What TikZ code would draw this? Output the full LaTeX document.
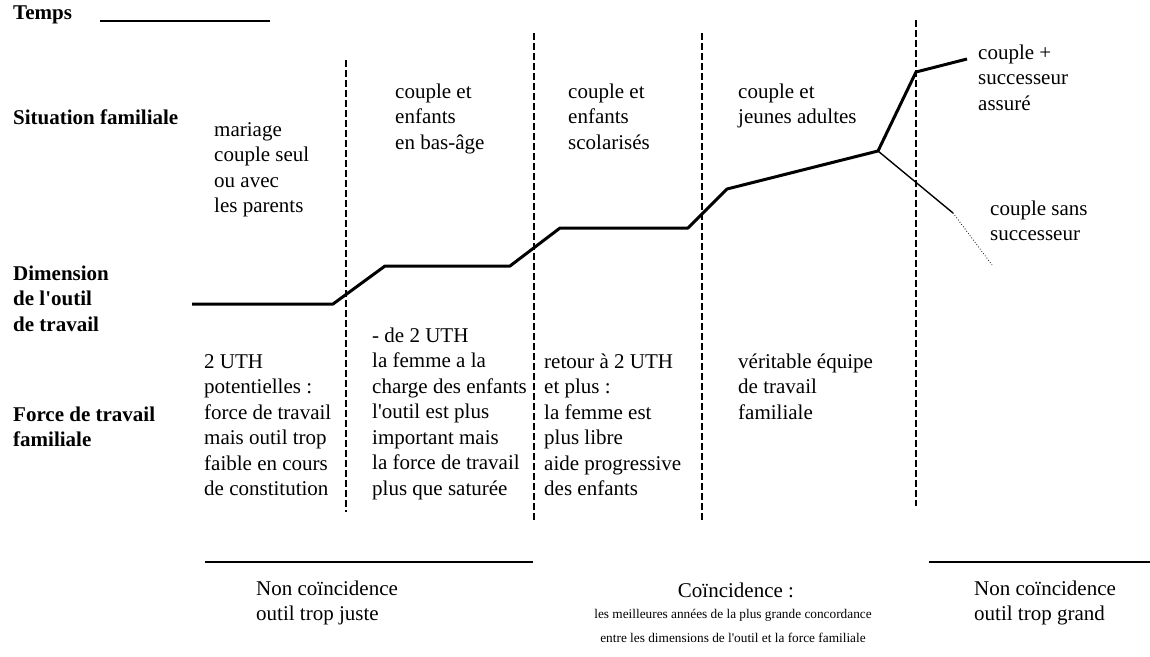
\documentclass[tikz,border=0pt]{standalone}
\usepackage{fontspec}
\setmainfont{Liberation Serif}[Ligatures=TeXOff]
\begin{document}
\begin{tikzpicture}[x=1pt,y=-1pt,
  txt/.style={font=\fontsize{21}{25.5}\selectfont, anchor=base west, inner sep=0pt, align=left},
  lbl/.style={font=\bfseries\fontsize{21}{25.5}\selectfont, anchor=base west, inner sep=0pt, align=left},
  smalltxt/.style={font=\fontsize{13.3}{24}\selectfont, anchor=base, inner sep=0pt, align=center},
  sepline/.style={dash pattern=on 7pt off 3pt, line width=1.1pt},
  career/.style={line width=3pt, line join=round},
  thinbranch/.style={line width=1.4pt},
  rule/.style={line width=1.4pt}]
\useasboundingbox (0,0) rectangle (1150,656);

% left labels (multi-line nodes are placed by the baseline of their last line)
\node[lbl] (temps) at (13,19) {Temps};
\coordinate (tl0) at (100,21);
\coordinate (tl1) at (270,21);
\draw[rule] (tl0) -- (tl1);
\node[lbl] (sit) at (13,124) {Situation familiale};
\node[lbl] (dim) at (13,331) {Dimension\\de l'outil\\de travail};
\node[lbl] (force) at (13,446.5) {Force de travail\\familiale};

% separators
\coordinate (s1t) at (346,60);  \coordinate (s1b) at (346,512);
\coordinate (s2t) at (534,33);  \coordinate (s2b) at (534,520);
\coordinate (s3t) at (702,33);  \coordinate (s3b) at (702,520);
\coordinate (s4t) at (916,20);  \coordinate (s4b) at (916,506);
\draw[sepline] (s1t) -- (s1b);
\draw[sepline] (s2t) -- (s2b);
\draw[sepline] (s3t) -- (s3b);
\draw[sepline] (s4t) -- (s4b);

% family situation
\node[txt] (f1) at (214,212.5) {mariage\\couple seul\\ou avec\\les parents};
\node[txt] (f2) at (395,149) {couple et\\enfants\\en bas-âge};
\node[txt] (f3) at (568,149) {couple et\\enfants\\scolarisés};
\node[txt] (f4) at (738,123.5) {couple et\\jeunes adultes};
\node[txt] (f5) at (978,110) {couple +\\successeur\\assuré};
\node[txt] (f6) at (990,240.5) {couple sans\\successeur};

% curve
\coordinate (p0) at (192,304);
\coordinate (p1) at (333,304);
\coordinate (p2) at (385,266);
\coordinate (p3) at (510,266);
\coordinate (p4) at (560,228);
\coordinate (p5) at (688,228);
\coordinate (p6) at (727,189);
\coordinate (p7) at (878,151);
\coordinate (p8) at (916,72);
\coordinate (p9) at (967,59);
\coordinate (q1) at (953,213);
\coordinate (q2) at (992,265);
\draw[career] (p0) -- (p1) -- (p2) -- (p3) -- (p4) -- (p5) -- (p6) -- (p7) -- (p8) -- (p9);
\draw[thinbranch] (p7) -- (q1);
\draw[line width=0.8pt, dotted] (q1) -- (q2);

% work force
\node[txt] (w1) at (204,495.5) {2 UTH\\potentielles :\\force de travail\\mais outil trop\\faible en cours\\de constitution};
\node[txt] (w2) at (372,495) {- de 2 UTH\\la femme a la\\charge des enfants\\l'outil est plus\\important mais\\la force de travail\\plus que saturée};
\node[txt] (w3) at (544,495.5) {retour à 2 UTH\\et plus :\\la femme est\\plus libre\\aide progressive\\des enfants};
\node[txt] (w4) at (738,419) {véritable équipe\\de travail\\familiale};

% bottom
\coordinate (b1a) at (205,562); \coordinate (b1b) at (533,562);
\coordinate (b2a) at (929,562); \coordinate (b2b) at (1150,562);
\draw[rule] (b1a) -- (b1b);
\draw[rule] (b2a) -- (b2b);
\node[txt] (n1) at (256,620.5) {Non coïncidence\\outil trop juste};
\node[txt] (n2) at (974,620.5) {Non coïncidence\\outil trop grand};
\node[txt, anchor=base] (c0) at (736,597) {Coïncidence :};
\node[smalltxt] (c1) at (733,642) {les meilleures années de la plus grande concordance\\entre les dimensions de l'outil et la force familiale};
\end{tikzpicture}
\end{document}
